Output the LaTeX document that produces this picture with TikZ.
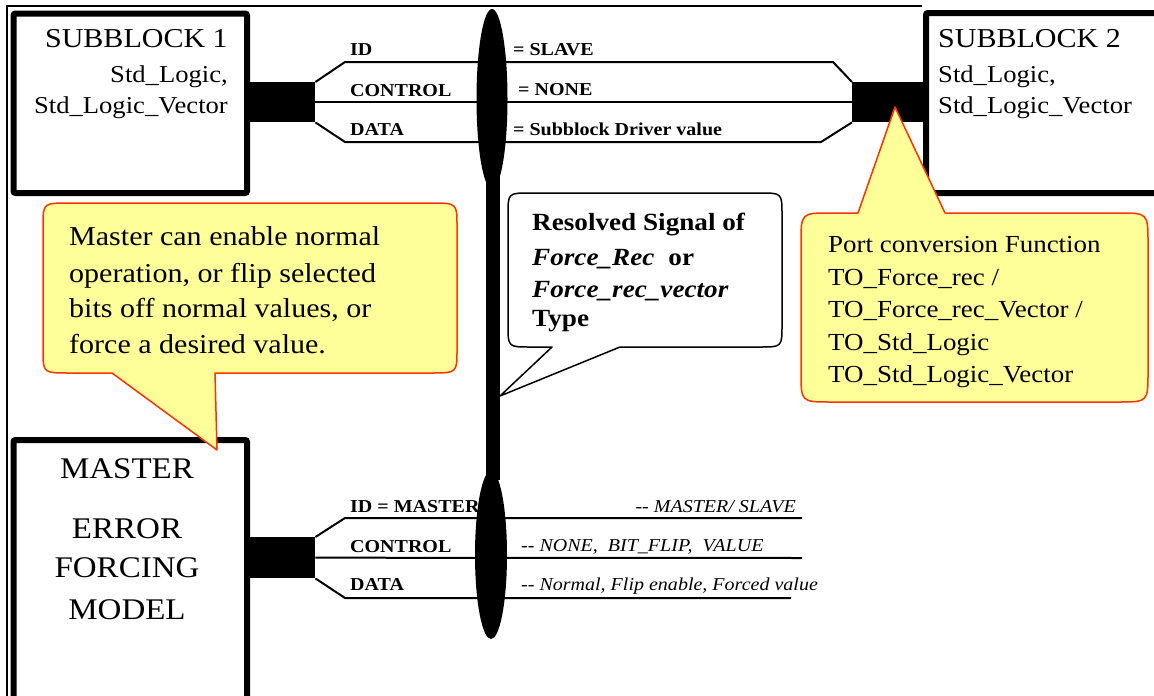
\documentclass[tikz,border=0pt]{standalone}
\usepackage{fontspec}
\setmainfont[FakeStretch=1.1]{Liberation Serif}
\usetikzlibrary{shapes.geometric}
\definecolor{cfill}{HTML}{FFFF99}
\definecolor{cline}{HTML}{FF3300}
\begin{document}
\begin{tikzpicture}[x=1pt,y=-1pt,
  box/.style={draw=black,line width=6pt,fill=white,rounded corners=2pt,inner sep=0pt,anchor=north west},
  plug/.style={fill=black,inner sep=0pt,anchor=north west,minimum width=71pt,minimum height=40pt},
  wire/.style={draw=black,line width=2pt},
  txt/.style={anchor=base west,inner sep=0pt},
  txte/.style={anchor=base east,inner sep=0pt},
  txtc/.style={anchor=base,inner sep=0pt},
  bl/.style={txt,font=\fontsize{18.2}{20}\selectfont\bfseries},
  it/.style={txt,font=\fontsize{18.2}{20}\selectfont\itshape},
  yell/.style={fill=cfill,draw=cline,line width=1.5pt,line join=round},
  wcall/.style={fill=white,draw=black,line width=1.5pt,line join=round},
  blob/.style={ellipse,fill=black,inner sep=0pt}]
\useasboundingbox (0,0) rectangle (1154,696);
\fill[white] (0,0) rectangle (1154,696);
% outer frame
\draw[line width=2pt] (7,700) -- (7,5.5) -- (922,5.5);
% boxes
\node[box,minimum width=233.5pt,minimum height=179.5pt] (sb1) at (10.5,10.5) {};
\node[box,minimum width=240pt,minimum height=180pt] (sb2) at (923,10) {};
\node[box,minimum width=233.5pt,minimum height=275pt] (mst) at (10.5,437) {};
% plugs
\node[plug] (p1) at (244,82) {};
\node[plug,minimum width=71pt] (p2) at (852,82) {};
\node[plug,minimum height=41pt] (p3) at (244,537) {};
% top bus wires
\coordinate (t1) at (345,62);
\coordinate (t2) at (833,62);
\coordinate (t3) at (345,142);
\coordinate (t4) at (821,142);
\draw[wire] (p1.north east) -- (t1) -- (t2) -- (p2.north west);
\draw[wire] (p1.east) -- (p2.west);
\draw[wire] (p1.south east) -- (t3) -- (t4) -- (p2.south west);
% bottom bus wires
\coordinate (b1) at (345,518);
\coordinate (b2) at (802,518);
\coordinate (b3) at (802,558);
\coordinate (b4) at (345,598);
\coordinate (b5) at (791,598);
\draw[wire] (p3.north east) -- (b1) -- (b2);
\draw[wire] (p3.east) -- (b3);
\draw[wire] (p3.south east) -- (b4) -- (b5);
% bus labels
\node[bl] (lid) at (350,55) {ID};
\node[bl] (lctl) at (350,96) {CONTROL};
\node[bl] (ldat) at (350,135) {DATA};
\node[bl] (vid) at (513,55) {= SLAVE};
\node[bl] (vctl) at (518,95) {= NONE};
\node[bl] (vdat) at (513,135) {= Subblock Driver value};
\node[bl] (mid) at (350,512) {ID = MASTER};
\node[bl] (mctl) at (350,552) {CONTROL};
\node[bl] (mdat) at (350,590) {DATA};
\node[it,anchor=base east] (cid) at (796,512) {-{}- MASTER/ SLAVE};
\node[it] (cctl) at (521,551) {-{}- NONE,\ \ BIT\_FLIP,\ \ VALUE};
\node[it] (cdat) at (521,590) {-{}- Normal, Flip enable, Forced value};
% vertical bus
\node[fill=black,inner sep=0pt,minimum width=14pt,minimum height=330pt] (bar) at (493,315) {};
\node[blob,minimum width=31pt,minimum height=180pt] (e1) at (492,99) {};
\node[blob,minimum width=32pt,minimum height=168pt] (e2) at (491,555) {};
% box texts
\node[txte,font=\fontsize{27.3}{30}\selectfont] (s1a) at (228,47) {SUBBLOCK 1};
\node[txte,font=\fontsize{24.2}{28}\selectfont] (s1b) at (228,82) {Std\_Logic,};
\node[txte,font=\fontsize{24.2}{28}\selectfont] (s1c) at (228,113) {Std\_Logic\_Vector};
\node[txt,font=\fontsize{27.3}{30}\selectfont] (s2a) at (938,47) {SUBBLOCK 2};
\node[txt,font=\fontsize{24.2}{28}\selectfont] (s2b) at (938,82) {Std\_Logic,};
\node[txt,font=\fontsize{24.2}{28}\selectfont] (s2c) at (938,113) {Std\_Logic\_Vector};
\node[txtc,font=\fontsize{30}{34}\selectfont] (m1) at (127,478) {MASTER};
\node[txtc,font=\fontsize{30}{34}\selectfont] (m2) at (127,538) {ERROR};
\node[txtc,font=\fontsize{30}{34}\selectfont] (m3) at (127,577) {FORCING};
\node[txtc,font=\fontsize{30}{34}\selectfont] (m4) at (127,619) {MODEL};
% callout: master
\draw[yell] (70,203) -- (430,203) .. controls (457,203) .. (457,226) -- (457,350)
  .. controls (457,373) .. (430,373) -- (215,373) -- (217,450) -- (112,373) -- (70,373)
  .. controls (43,373) .. (43,350) -- (43,226) .. controls (43,203) .. (70,203) -- cycle;
\node[txt,font=\fontsize{27.3}{30}\selectfont] (c1a) at (69,245) {Master can enable normal};
\node[txt,font=\fontsize{27.3}{30}\selectfont] (c1b) at (69,282) {operation, or flip selected};
\node[txt,font=\fontsize{27.3}{30}\selectfont] (c1c) at (69,317) {bits off normal values, or};
\node[txt,font=\fontsize{27.3}{30}\selectfont] (c1d) at (69,353) {force a desired value.};
% callout: port conversion
\draw[yell] (831,213) -- (858,213) -- (895,107) -- (945,213) -- (1118,213)
  .. controls (1148,213) .. (1148,243) -- (1148,372) .. controls (1148,402) .. (1118,402)
  -- (831,402) .. controls (801,402) .. (801,372) -- (801,243) .. controls (801,213) .. (831,213) -- cycle;
\node[txt,font=\fontsize{24.5}{28}\selectfont] (c2a) at (828,252) {Port conversion Function};
\node[txt,font=\fontsize{24.5}{28}\selectfont] (c2b) at (828,285) {TO\_Force\_rec /};
\node[txt,font=\fontsize{24.5}{28}\selectfont] (c2c) at (828,317) {TO\_Force\_rec\_Vector /};
\node[txt,font=\fontsize{24.5}{28}\selectfont] (c2d) at (828,350) {TO\_Std\_Logic};
\node[txt,font=\fontsize{24.5}{28}\selectfont] (c2e) at (828,382) {TO\_Std\_Logic\_Vector};
% callout: resolved signal
\draw[wcall] (530,193) -- (760,193) .. controls (782,193) .. (782,215) -- (782,325)
  .. controls (782,347) .. (760,347) -- (620,347) -- (500,396) -- (552,347) -- (530,347)
  .. controls (508,347) .. (508,325) -- (508,215) .. controls (508,193) .. (530,193) -- cycle;
\node[txt,font=\fontsize{24.7}{28}\selectfont\bfseries] (c3a) at (532,230) {Resolved Signal of};
\node[txt,font=\fontsize{24.7}{28}\selectfont\bfseries] (c3b) at (532,265) {\textit{Force\_Rec}\hspace{14pt}or};
\node[txt,font=\fontsize{24.7}{28}\selectfont\bfseries\itshape] (c3c) at (532,297) {Force\_rec\_vector};
\node[txt,font=\fontsize{24.7}{28}\selectfont\bfseries] (c3d) at (532,326) {Type};
\end{tikzpicture}
\end{document}
